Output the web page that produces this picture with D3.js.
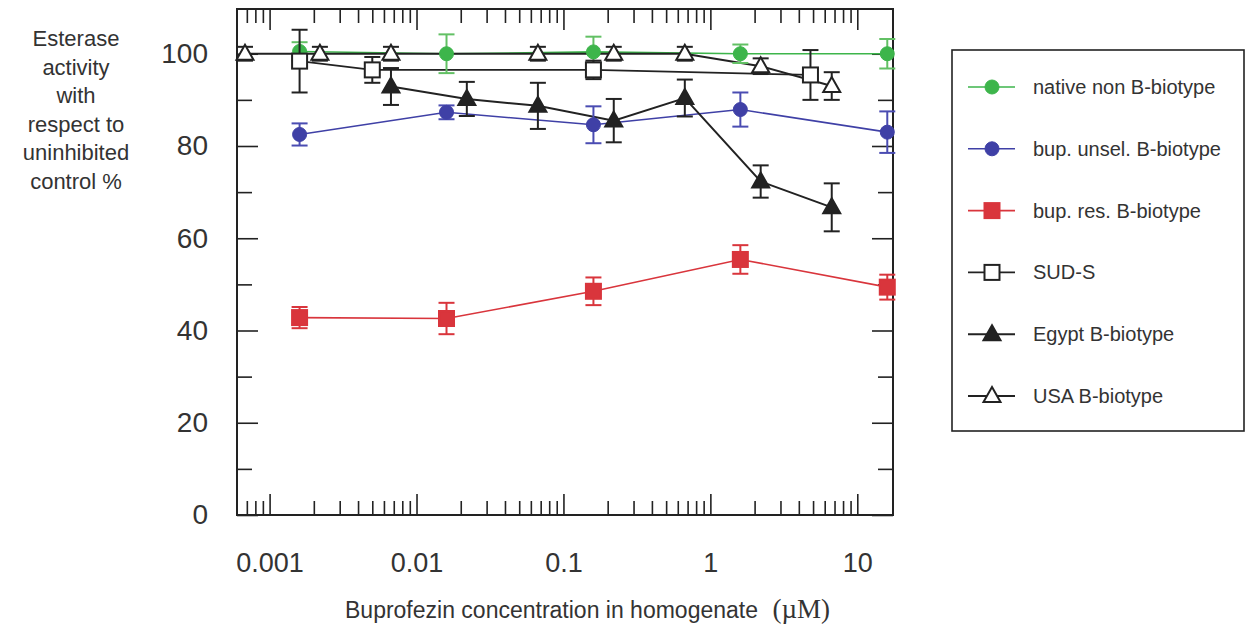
<!DOCTYPE html>
<html>
<head>
<meta charset="utf-8">
<script src="https://cdn.jsdelivr.net/npm/d3@7"></script>
<style>
  body { margin: 0; background: #fff; }
  text { font-family: Arial, "Liberation Sans", sans-serif; fill: #333; }
</style>
</head>
<body>
<svg width="1249" height="626"></svg>
<script>
// Buprofezin concentrations (uM) used by each population
const concDecade = [0.0016, 0.016, 0.16, 1.6, 16];
const concSud = [0.0016, 0.005, 0.16, 4.8];
const concEgypt = [0.0067, 0.022, 0.067, 0.22, 0.67, 2.2, 6.7];
const concUsa = [0.00068, 0.0022, 0.0067, 0.067, 0.22, 0.67, 2.2, 6.7];

// Esterase activity (% of uninhibited control) and error bars
const nativeMean = [100.5, 100, 100.4, 100, 100];
const nativeErr = [2, 4.2, 3.3, 2, 3.2];
const unselMean = [82.5, 87.3, 84.6, 87.9, 83];
const unselErr = [2.4, 1.5, 4, 3.7, 4.5];
const resMean = [42.8, 42.6, 48.5, 55.4, 49.4];
const resErr = [2.3, 3.4, 3, 3.1, 2.7];
const sudMean = [98.4, 96.5, 96.5, 95.4];
const sudErr = [6.8, 2.8, 2, 5.4];
const egyptMean = [92.9, 90.2, 88.7, 85.5, 90.4, 72.3, 66.7];
const egyptErr = [4, 3.7, 5, 4.7, 4, 3.5, 5.2];
const usaMean = [100, 100, 100, 100, 100, 100, 97.3, 93];
const usaErr = [1.5, 1.5, 1.5, 1.5, 1.5, 1.5, 1.7, 3];

const seriesNames = ["native non B-biotype", "bup. unsel. B-biotype", "bup. res. B-biotype",
                     "SUD-S", "Egypt B-biotype", "USA B-biotype"];
const yTicks = [0, 20, 40, 60, 80, 100];
const xTicks = [0.001, 0.01, 0.1, 1, 10];
const xTickLabels = ["0.001", "0.01", "0.1", "1", "10"];
const yTitleLines = ["Esterase", "activity", "with", "respect to", "uninhibited", "control %"];

function makeSeries(conc, mean, err) {
    return conc.map((c, i) => ({ x: c, y: mean[i], e: err[i] }));
}

const series = [
    { name: seriesNames[0], pts: makeSeries(concDecade, nativeMean, nativeErr), line: "#3db54b", bar: "#62c064", shape: "circle", fill: "#3db54b", stroke: "#3db54b", lw: 1.6 },
    { name: seriesNames[1], pts: makeSeries(concDecade, unselMean, unselErr), line: "#3f40a6", bar: "#4a4cb2", shape: "circle", fill: "#3f40a6", stroke: "#3f40a6", lw: 1.6 },
    { name: seriesNames[2], pts: makeSeries(concDecade, resMean, resErr), line: "#d9353c", bar: "#d9353c", shape: "square", fill: "#d9353c", stroke: "#d9353c", lw: 1.6 },
    { name: seriesNames[3], pts: makeSeries(concSud, sudMean, sudErr), line: "#222", bar: "#222", shape: "square", fill: "#fff", stroke: "#222", lw: 1.8 },
    { name: seriesNames[4], pts: makeSeries(concEgypt, egyptMean, egyptErr), line: "#222", bar: "#222", shape: "triangle", fill: "#222", stroke: "#222", lw: 2 },
    { name: seriesNames[5], pts: makeSeries(concUsa, usaMean, usaErr), line: "#222", bar: "#222", shape: "triangle", fill: "#fff", stroke: "#222", lw: 2 }
];

const svg = d3.select("svg");
const plot = { left: 237, right: 893, top: 9, bottom: 515 };

const x = d3.scaleLog().domain([0.0006, 17.5]).range([plot.left, plot.right]);
const y = d3.scaleLinear().domain([0, 109.7]).range([plot.bottom, plot.top]);

// Minor log ticks for the x axis
const xMinor = [];
for (let p = -4; p <= 1; p++) {
    for (let k = 2; k <= 9; k++) {
        const v = k * Math.pow(10, p);
        if (v > 0.00061 && v < 17.5) xMinor.push(v);
    }
}
const yMinor = d3.range(10, 110, 20);

// Axes (ticks pointing inward on all four sides)
svg.append("g").attr("transform", `translate(0,${plot.bottom})`)
   .call(d3.axisBottom(x).tickValues(xMinor).tickSizeInner(-14).tickSizeOuter(0).tickFormat(""));
svg.append("g").attr("class", "xlab").attr("transform", `translate(0,${plot.bottom})`)
   .call(d3.axisBottom(x).tickValues(xTicks).tickSizeInner(-21).tickSizeOuter(0).tickPadding(38)
         .tickFormat((d, i) => xTickLabels[i]));
svg.append("g").attr("transform", `translate(0,${plot.top})`)
   .call(d3.axisTop(x).tickValues(xMinor).tickSizeInner(-14).tickSizeOuter(0).tickFormat(""));
svg.append("g").attr("transform", `translate(0,${plot.top})`)
   .call(d3.axisTop(x).tickValues(xTicks).tickSizeInner(-21).tickSizeOuter(0).tickFormat(""));

svg.append("g").attr("class", "ylab").attr("transform", `translate(${plot.left},0)`)
   .call(d3.axisLeft(y).tickValues(yTicks).tickSizeInner(-21).tickSizeOuter(0).tickPadding(29));
svg.append("g").attr("transform", `translate(${plot.left},0)`)
   .call(d3.axisLeft(y).tickValues(yMinor).tickSizeInner(-15).tickSizeOuter(0).tickFormat(""));
svg.append("g").attr("transform", `translate(${plot.right},0)`)
   .call(d3.axisRight(y).tickValues(yTicks).tickSizeInner(-21).tickSizeOuter(0).tickFormat(""));
svg.append("g").attr("transform", `translate(${plot.right},0)`)
   .call(d3.axisRight(y).tickValues(yMinor).tickSizeInner(-15).tickSizeOuter(0).tickFormat(""));

svg.selectAll(".domain").remove();
svg.selectAll(".tick line").attr("stroke", "#222").attr("stroke-width", 1.6);
svg.selectAll(".xlab text").attr("font-size", 27).attr("fill", "#333").attr("font-family", null);
svg.selectAll(".ylab text").attr("font-size", 28).attr("fill", "#333").attr("font-family", null);

// Plot frame
svg.append("rect")
   .attr("x", plot.left).attr("y", plot.top)
   .attr("width", plot.right - plot.left).attr("height", plot.bottom - plot.top)
   .attr("fill", "none").attr("stroke", "#222").attr("stroke-width", 2);

// Marker drawing helper
function drawMarker(g, s, cx, cy) {
    if (s.shape === "circle") {
        g.append("circle").attr("cx", cx).attr("cy", cy).attr("r", 7)
         .attr("fill", s.fill).attr("stroke", s.stroke).attr("stroke-width", 1);
    } else if (s.shape === "square") {
        g.append("rect").attr("x", cx - 7.5).attr("y", cy - 7.5).attr("width", 15).attr("height", 15)
         .attr("fill", s.fill).attr("stroke", s.stroke).attr("stroke-width", 2);
    } else {
        g.append("path")
         .attr("d", `M${cx},${cy - 9}L${cx + 8.5},${cy + 6}L${cx - 8.5},${cy + 6}Z`)
         .attr("fill", s.fill).attr("stroke", s.stroke).attr("stroke-width", 2).attr("stroke-linejoin", "miter");
    }
}

const line = d3.line().x(d => x(d.x)).y(d => y(d.y));

// Lines first
series.forEach(s => {
    svg.append("path").datum(s.pts)
       .attr("d", line).attr("fill", "none")
       .attr("stroke", s.line).attr("stroke-width", s.lw);
});

// Error bars and markers
series.forEach(s => {
    const g = svg.append("g");
    s.pts.forEach(p => {
        const cx = x(p.x), y0 = y(p.y - p.e), y1 = y(p.y + p.e);
        g.append("line").attr("x1", cx).attr("x2", cx).attr("y1", y0).attr("y2", y1)
         .attr("stroke", s.bar).attr("stroke-width", 2);
        [y0, y1].forEach(yy => {
            g.append("line").attr("x1", cx - 8).attr("x2", cx + 8).attr("y1", yy).attr("y2", yy)
             .attr("stroke", s.bar).attr("stroke-width", 2);
        });
    });
    s.pts.forEach(p => drawMarker(g, s, x(p.x), y(p.y)));
});

// Y axis title
svg.append("g").selectAll("text").data(yTitleLines).join("text")
   .attr("x", 76).attr("y", (d, i) => 46 + i * 28.6)
   .attr("text-anchor", "middle").attr("font-size", 22)
   .text(d => d);

// X axis title
const xt = svg.append("text").attr("x", 345).attr("y", 618).attr("font-size", 23);
xt.append("tspan").text("Buprofezin concentration in homogenate ");
xt.append("tspan").attr("dx", 8).attr("font-family", "'Liberation Serif', 'Times New Roman', serif")
  .attr("font-size", 27).text("(\u00b5M)");

// Legend
const legend = svg.append("g");
legend.append("rect").attr("x", 952).attr("y", 50).attr("width", 292).attr("height", 381)
      .attr("fill", "#fff").attr("stroke", "#222").attr("stroke-width", 1.6);
series.forEach((s, i) => {
    const ly = 87 + i * 61.8;
    legend.append("line").attr("x1", 968).attr("x2", 1015).attr("y1", ly).attr("y2", ly)
          .attr("stroke", s.line).attr("stroke-width", s.lw);
    drawMarker(legend, s, 992, ly);
    legend.append("text").attr("x", 1033).attr("y", ly).attr("dy", "0.35em")
          .attr("font-size", 20).text(s.name);
});
</script>
</body>
</html>
